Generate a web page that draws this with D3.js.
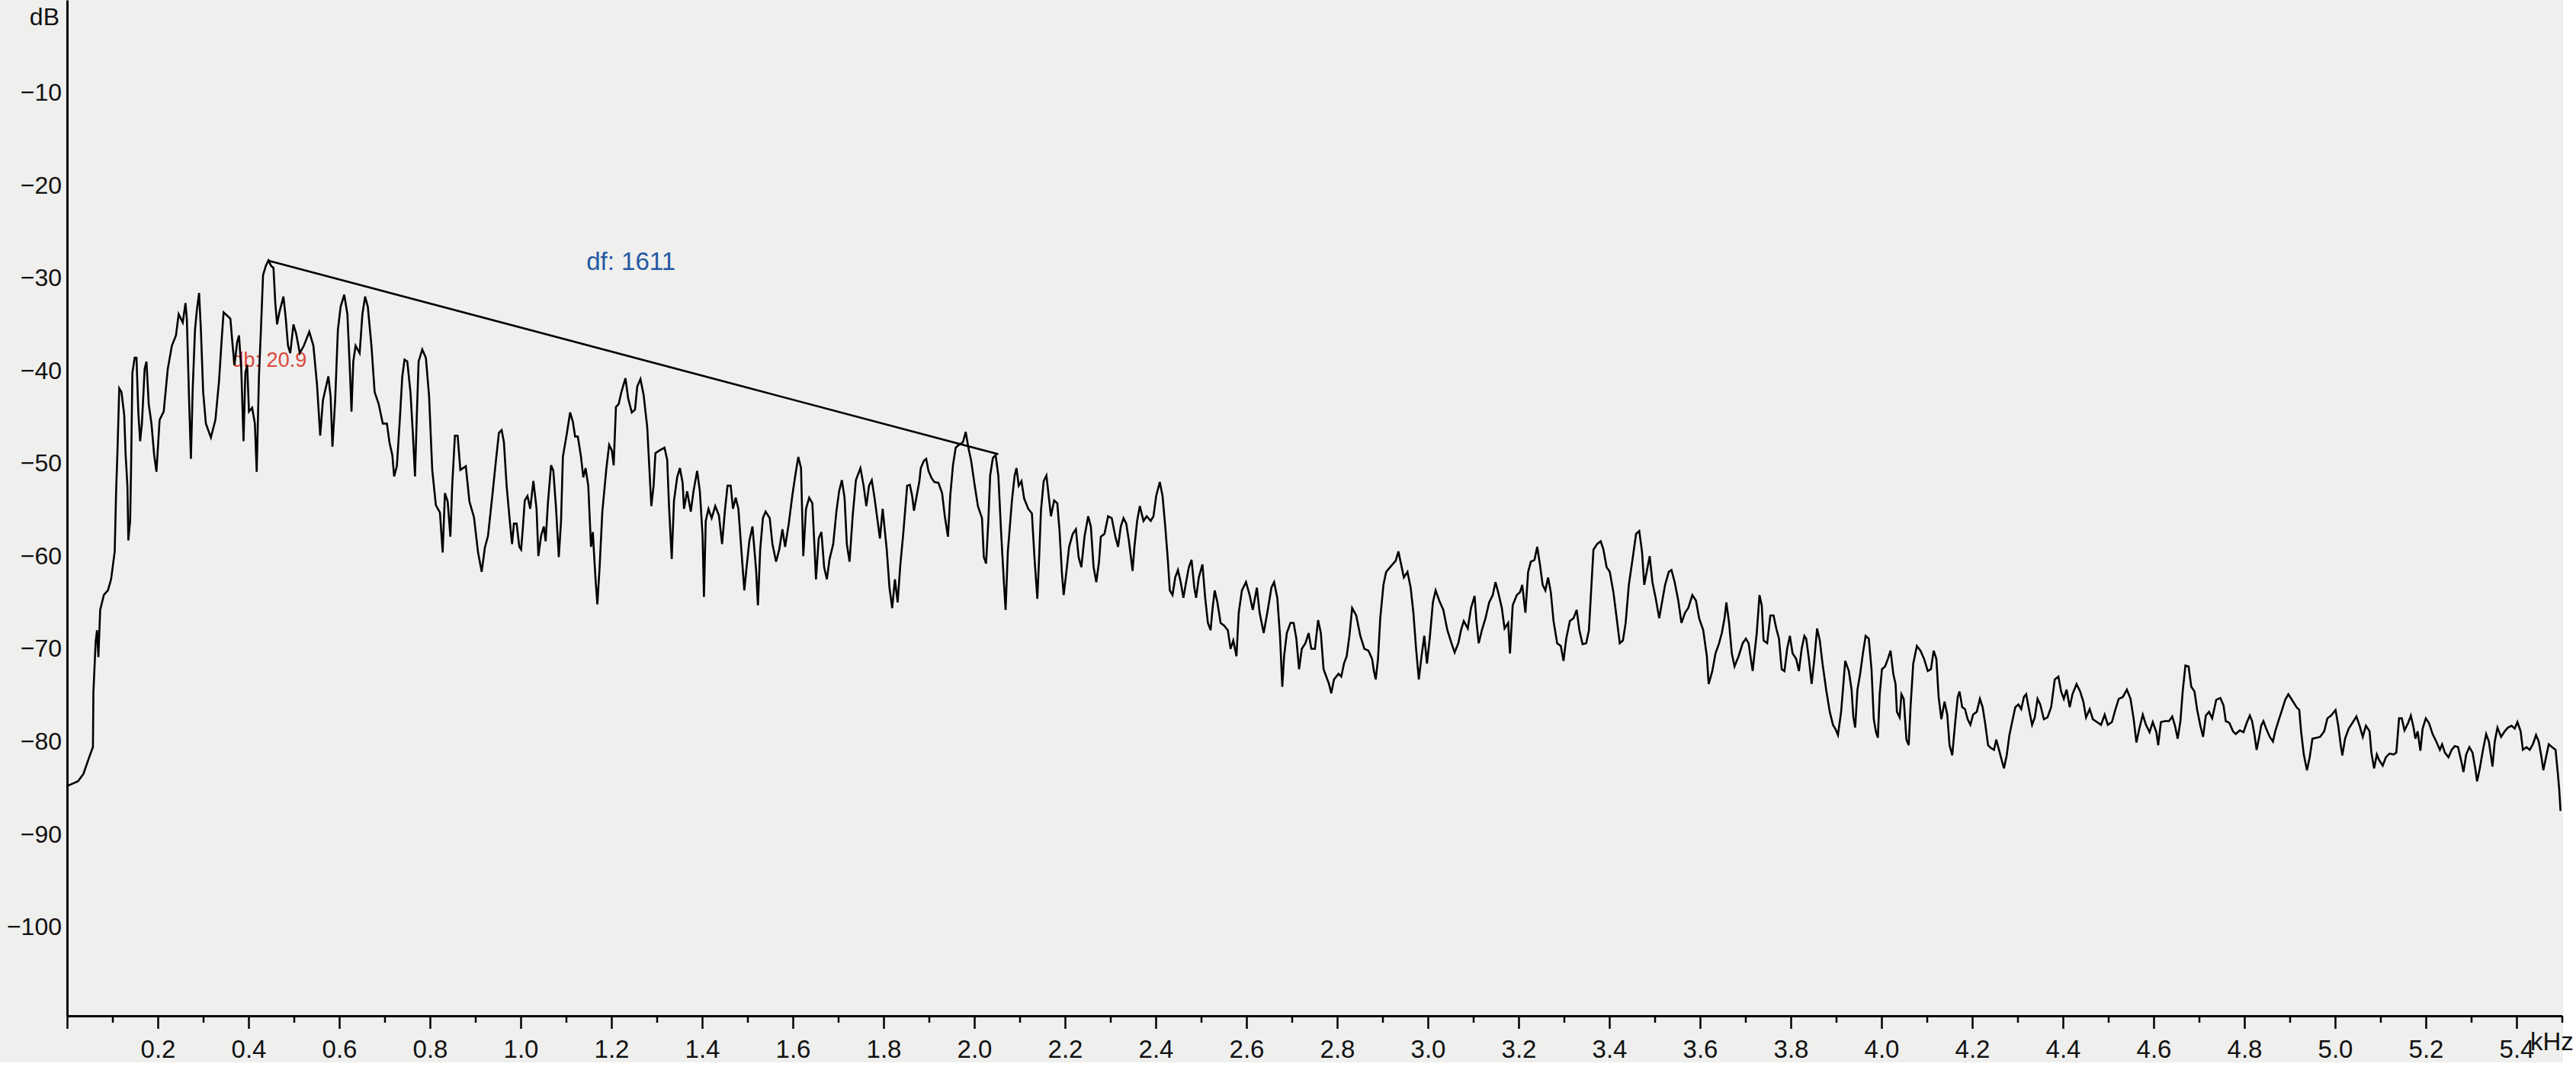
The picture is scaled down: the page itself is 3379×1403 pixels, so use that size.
<!DOCTYPE html>
<html>
<head>
<meta charset="utf-8">
<script src="https://cdn.jsdelivr.net/npm/d3@7"></script>
<style>
  body { margin: 0; background: #ffffff; }
  svg { display: block; font-family: "Liberation Sans", Arial, Helvetica, sans-serif; }
</style>
</head>
<body>
<script>
// Spectrum, [kHz, dB], split into bands.
const band1 = [[0,-84.8],[0.024,-84.3],[0.036,-83.5],[0.048,-81.8],[0.057,-80.6],[0.058,-74.7],[0.063,-69.2],[0.066,-68],[0.069,-70.9],[0.073,-65.8],[0.081,-64.2],[0.09,-63.7],[0.097,-62.5],[0.105,-59.5],[0.108,-53.2],[0.111,-48.8],[0.115,-41.9],[0.12,-42.3],[0.126,-44.8],[0.129,-49],[0.133,-52.4],[0.135,-58.3],[0.139,-56.2],[0.141,-50.7],[0.144,-40.2],[0.149,-38.6],[0.153,-38.6],[0.157,-44.4],[0.161,-47.6],[0.165,-45.7],[0.171,-39.8],[0.175,-39],[0.18,-43.6],[0.186,-45.7],[0.192,-49.1],[0.197,-50.9],[0.204,-45.3],[0.213,-44.4],[0.222,-39.8],[0.231,-37.3],[0.24,-36.2],[0.246,-33.9],[0.255,-34.8],[0.261,-32.7],[0.264,-34.4],[0.269,-43.2],[0.273,-49.5],[0.277,-41.9],[0.282,-35.6],[0.286,-33.5],[0.291,-31.6],[0.295,-35.6],[0.3,-42.3],[0.306,-45.7],[0.317,-47.2],[0.327,-45.3],[0.335,-41.1],[0.341,-36.5],[0.345,-33.7],[0.354,-34.1],[0.36,-34.4],[0.365,-37.3],[0.369,-39.4],[0.375,-36.9],[0.379,-36.2],[0.384,-39.8],[0.389,-47.6],[0.393,-40.2],[0.397,-39.4],[0.401,-44.4],[0.408,-44],[0.414,-45.7],[0.418,-50.9],[0.423,-40.6],[0.427,-36],[0.432,-29.7],[0.438,-28.7],[0.444,-28.1],[0.45,-28.7],[0.455,-28.9],[0.459,-32.7],[0.463,-35],[0.468,-33.7],[0.477,-32],[0.482,-34.3],[0.487,-37.3],[0.492,-38.1],[0.499,-35],[0.505,-36],[0.513,-38.1],[0.522,-37.3],[0.534,-35.8],[0.543,-37.3],[0.551,-41.5],[0.558,-47],[0.564,-43.2],[0.576,-40.6],[0.581,-42.8],[0.585,-48.2],[0.591,-43.2],[0.597,-35.6],[0.603,-33.1],[0.611,-31.8],[0.618,-33.9],[0.623,-39.4],[0.627,-44.4],[0.631,-39],[0.636,-37.3],[0.645,-38.1],[0.651,-33.9],[0.657,-32],[0.663,-33.1],[0.671,-37.3],[0.678,-42.3],[0.687,-43.6],[0.696,-45.7],[0.705,-45.7],[0.711,-47.8],[0.717,-49.1],[0.721,-51.4],[0.727,-50.3],[0.733,-45.7],[0.739,-40.6],[0.744,-38.8],[0.75,-39],[0.757,-42.3],[0.762,-46.5],[0.767,-51.4],[0.771,-44.8],[0.775,-39],[0.783,-37.7],[0.791,-38.6],[0.798,-42.7],[0.805,-50.7],[0.813,-54.5],[0.822,-55.3],[0.828,-59.6],[0.833,-53.2],[0.839,-54.1],[0.845,-57.9],[0.849,-52.4],[0.855,-47],[0.861,-47],[0.867,-50.7],[0.879,-50.3],[0.887,-54.1],[0.897,-55.8],[0.906,-59.6],[0.914,-61.7],[0.921,-59.1]];

const band2 = [[0.928,-57.8],[0.937,-53.7],[0.945,-49.9],[0.952,-46.7],[0.958,-46.4],[0.963,-47.7],[0.969,-52.4],[0.976,-56.2],[0.981,-58.7],[0.985,-56.5],[0.991,-56.5],[0.997,-59],[1.001,-59.3],[1.005,-56.8],[1.009,-54],[1.015,-53.5],[1.021,-54.9],[1.028,-51.9],[1.035,-54.9],[1.039,-60],[1.045,-57.8],[1.051,-56.8],[1.055,-58.4],[1.06,-54.3],[1.067,-50.2],[1.072,-50.8],[1.078,-54.9],[1.084,-60.1],[1.089,-56.2],[1.093,-49.3],[1.102,-46.7],[1.109,-44.5],[1.115,-45.5],[1.12,-47.1],[1.126,-47.1],[1.133,-49.3],[1.138,-51.5],[1.143,-50.5],[1.149,-52.4],[1.155,-59],[1.159,-57.4],[1.165,-62.5],[1.169,-65.2],[1.174,-61.2],[1.18,-55.2],[1.189,-50.5],[1.195,-48],[1.201,-48.6],[1.205,-50.2],[1.21,-43.9],[1.216,-43.6],[1.222,-42.3],[1.231,-40.8],[1.237,-43],[1.245,-44.5],[1.252,-44.2],[1.257,-41.7],[1.264,-40.9],[1.271,-42.6],[1.279,-46.1],[1.283,-49.9],[1.288,-54.6],[1.293,-52.4],[1.297,-48.9],[1.306,-48.6],[1.317,-48.3],[1.323,-49.6],[1.327,-54.6],[1.333,-60.3],[1.338,-54],[1.345,-51.5],[1.351,-50.5],[1.357,-52.1],[1.36,-54.9],[1.367,-53],[1.375,-55.2],[1.381,-53],[1.389,-50.8],[1.395,-53],[1.401,-57.8],[1.404,-64.4],[1.408,-56.2],[1.414,-54.9],[1.421,-55.9],[1.429,-54.6],[1.437,-55.6],[1.444,-58.7],[1.45,-55.2],[1.456,-52.4],[1.463,-52.4],[1.468,-54.9],[1.474,-53.7],[1.48,-54.9],[1.486,-59],[1.493,-63.7],[1.498,-61.2],[1.504,-58.4],[1.511,-56.8],[1.519,-61.5],[1.523,-65.3],[1.528,-59.3],[1.534,-55.9],[1.54,-55.2],[1.549,-55.9],[1.555,-58.7],[1.563,-60.6],[1.57,-59.3],[1.577,-57.1],[1.583,-59],[1.591,-56.5],[1.599,-53.4],[1.606,-51.1],[1.612,-49.3],[1.618,-50.5],[1.623,-60],[1.629,-54.9],[1.636,-53.7],[1.643,-54.3],[1.648,-59.3],[1.651,-62.5],[1.657,-58.1],[1.663,-57.4],[1.669,-61.2],[1.675,-62.5],[1.681,-60.3],[1.689,-58.7],[1.696,-55.2],[1.702,-53],[1.708,-51.8],[1.714,-53.7],[1.719,-58.7],[1.725,-60.6],[1.732,-55.6],[1.739,-51.8],[1.749,-50.5],[1.756,-52.4],[1.762,-54.6],[1.768,-52.4],[1.774,-51.8],[1.78,-53.7],[1.786,-55.9],[1.792,-58.1],[1.798,-54.9],[1.807,-59.3],[1.813,-63.4],[1.819,-65.6],[1.825,-62.5],[1.831,-65],[1.837,-60.9],[1.843,-57.8]];

const band3 = [[1.852,-52.4],[1.858,-52.3],[1.863,-53.5],[1.867,-55.1],[1.873,-53.5],[1.879,-51.9],[1.882,-50.5],[1.889,-49.7],[1.894,-49.5],[1.899,-50.8],[1.906,-51.6],[1.912,-52],[1.921,-52.1],[1.929,-53.2],[1.935,-55.7],[1.942,-57.9],[1.947,-53.5],[1.953,-50.2],[1.959,-48.3],[1.966,-48],[1.975,-47.7],[1.981,-46.6],[1.987,-48.3],[1.993,-49.7],[2.001,-52.4],[2.008,-54.6],[2.017,-55.9],[2.021,-60.1],[2.026,-60.8],[2.031,-56.2],[2.035,-51.3],[2.041,-49.4],[2.047,-49.1],[2.053,-51.3],[2.059,-57.3],[2.065,-62.6],[2.069,-65.8],[2.074,-59.5],[2.083,-54],[2.089,-51.3],[2.093,-50.5],[2.098,-52.4],[2.104,-51.9],[2.11,-53.8],[2.119,-54.9],[2.127,-55.4],[2.133,-60.4],[2.139,-64.6],[2.143,-60.1],[2.147,-55.1],[2.153,-51.9],[2.159,-51.3],[2.164,-53.5],[2.169,-55.7],[2.176,-54],[2.183,-54.3],[2.188,-57.3],[2.193,-61.7],[2.197,-64.2],[2.203,-61.7],[2.209,-59],[2.217,-57.6],[2.224,-57.1],[2.23,-60.1],[2.236,-61.2],[2.243,-57.9],[2.251,-55.7],[2.257,-56.8],[2.263,-61.2],[2.269,-62.8],[2.275,-60.6],[2.279,-57.9],[2.287,-57.6],[2.295,-55.7],[2.303,-55.9],[2.311,-57.9],[2.317,-59],[2.323,-56.8],[2.329,-55.9],[2.335,-56.5],[2.341,-58.4],[2.349,-61.6],[2.353,-59],[2.359,-56.2],[2.365,-54.6],[2.373,-56.2],[2.38,-55.7],[2.389,-56.2],[2.395,-55.7],[2.401,-53.5],[2.409,-52],[2.415,-53.5],[2.421,-56.8],[2.427,-60.6],[2.431,-63.7],[2.437,-64.2],[2.443,-62.3],[2.449,-61.5],[2.455,-62.8],[2.461,-64.5],[2.467,-62.8],[2.473,-61.2],[2.479,-60.4],[2.485,-63.4],[2.489,-64.5],[2.495,-62.3],[2.503,-60.9],[2.509,-64.5],[2.515,-67.2],[2.521,-68],[2.525,-65.8],[2.53,-63.7],[2.536,-65],[2.543,-67.2],[2.551,-67.5],[2.559,-68],[2.565,-70],[2.571,-69.1],[2.578,-70.8],[2.583,-66.1],[2.59,-63.7],[2.599,-62.8],[2.607,-64.2],[2.614,-65.8],[2.623,-63.4],[2.629,-66.1],[2.638,-68.3],[2.647,-65.8],[2.655,-63.4],[2.661,-62.8],[2.668,-64.5],[2.674,-68.6],[2.679,-74.1],[2.683,-70.8],[2.689,-68.3],[2.697,-67.2],[2.704,-67.2],[2.71,-68.9],[2.716,-72.2],[2.722,-70],[2.73,-69.4],[2.737,-68.3],[2.743,-70],[2.751,-70],[2.758,-66.9],[2.764,-68.3],[2.77,-72.2]];

const band4 = [[2.782,-73.8],[2.787,-74.8],[2.793,-73.3],[2.803,-72.7],[2.809,-73],[2.815,-71.6],[2.821,-70.8],[2.827,-68.6],[2.833,-65.6],[2.842,-66.4],[2.851,-68.6],[2.86,-70],[2.869,-70.2],[2.877,-71.1],[2.881,-72.4],[2.885,-73.3],[2.89,-71.1],[2.895,-66.7],[2.902,-63.1],[2.908,-61.7],[2.92,-61],[2.929,-60.5],[2.935,-59.5],[2.941,-60.9],[2.947,-62.3],[2.955,-61.7],[2.962,-63.4],[2.968,-66.1],[2.974,-70],[2.98,-73.3],[2.986,-70.8],[2.992,-68.6],[2.998,-71.6],[3.004,-68.9],[3.011,-65],[3.017,-63.7],[3.025,-64.8],[3.034,-65.8],[3.043,-68],[3.052,-69.4],[3.059,-70.4],[3.067,-69.4],[3.073,-68],[3.079,-67],[3.088,-67.8],[3.095,-65.6],[3.103,-64.3],[3.107,-67],[3.112,-69.4],[3.119,-68],[3.127,-66.7],[3.135,-65],[3.143,-64.2],[3.149,-62.8],[3.155,-63.9],[3.163,-65.6],[3.169,-67.8],[3.177,-67.2],[3.181,-70.5],[3.187,-65.3],[3.196,-64.2],[3.203,-63.9],[3.208,-63.1],[3.215,-66.1],[3.221,-61.7],[3.227,-60.6],[3.235,-60.4],[3.241,-59],[3.247,-60.9],[3.253,-63.1],[3.259,-63.7],[3.265,-62.3],[3.271,-63.9],[3.277,-67],[3.285,-69.4],[3.293,-69.7],[3.299,-71.3],[3.305,-68.9],[3.313,-67],[3.321,-66.7],[3.328,-65.8],[3.334,-68],[3.341,-69.5],[3.349,-69.4],[3.355,-68],[3.359,-64.5],[3.365,-59.3],[3.373,-58.7],[3.381,-58.4],[3.387,-59.3],[3.394,-61.2],[3.401,-61.7],[3.409,-63.9],[3.417,-67],[3.423,-69.4],[3.43,-69.1],[3.436,-67.2],[3.443,-63.1],[3.451,-60.4],[3.459,-57.6],[3.466,-57.3],[3.472,-59.5],[3.477,-63.1],[3.483,-61.5],[3.489,-60],[3.495,-62.8],[3.502,-64.5],[3.51,-66.7],[3.516,-65],[3.523,-63.1],[3.531,-61.7],[3.537,-61.5],[3.544,-62.8],[3.552,-64.8],[3.559,-67.2],[3.567,-66.1],[3.574,-65.6],[3.583,-64.2],[3.591,-64.8],[3.598,-66.7],[3.607,-68],[3.615,-70.8],[3.619,-73.8],[3.627,-72.4],[3.634,-70.5],[3.642,-69.4],[3.648,-68.3],[3.654,-66.7],[3.658,-65],[3.664,-67.2],[3.67,-70.5],[3.676,-71.9],[3.685,-70.8],[3.694,-69.4]];

const band5 = [[3.701,-68.9],[3.707,-69.4],[3.712,-71.1],[3.716,-72.4],[3.72,-70.5],[3.725,-68.3],[3.731,-64.2],[3.736,-65.3],[3.74,-69.1],[3.748,-69.4],[3.755,-66.4],[3.762,-66.4],[3.768,-67.8],[3.774,-68.9],[3.78,-72.2],[3.786,-72.4],[3.792,-70],[3.798,-68.6],[3.804,-70.5],[3.812,-71.1],[3.818,-72.4],[3.824,-70],[3.83,-68.6],[3.834,-68.9],[3.84,-71.1],[3.846,-73.8],[3.852,-71.1],[3.858,-67.8],[3.864,-69.1],[3.87,-71.6],[3.878,-74.4],[3.886,-76.8],[3.893,-78.2],[3.899,-78.7],[3.904,-79.3],[3.911,-76.8],[3.916,-73.8],[3.92,-71.3],[3.928,-72.4],[3.934,-74.4],[3.938,-77.4],[3.942,-78.5],[3.947,-74.4],[3.953,-72.7],[3.959,-70.5],[3.965,-68.6],[3.972,-68.9],[3.978,-72.2],[3.983,-77.6],[3.988,-79],[3.992,-79.6],[3.996,-74.9],[4.001,-72.2],[4.008,-71.9],[4.014,-71.1],[4.02,-70.2],[4.026,-72.7],[4.031,-73.8],[4.034,-76.8],[4.04,-77.4],[4.044,-74.9],[4.049,-75.4],[4.055,-79.8],[4.06,-80.4],[4.064,-76.3],[4.07,-71.6],[4.078,-69.7],[4.086,-70.2],[4.094,-71.1],[4.102,-72.4],[4.109,-72.2],[4.115,-70.2],[4.121,-71.1],[4.126,-75.2],[4.132,-77.6],[4.139,-75.7],[4.145,-77.1],[4.15,-80.4],[4.156,-81.5],[4.162,-78.2],[4.168,-75.2],[4.172,-74.6],[4.178,-76.3],[4.184,-76.5],[4.19,-77.6],[4.196,-78.2],[4.202,-77.1],[4.21,-76.8],[4.217,-75.4],[4.223,-76.3],[4.229,-78.2],[4.235,-80.4],[4.241,-80.7],[4.248,-80.9],[4.253,-79.8],[4.259,-80.9],[4.265,-82],[4.27,-82.9],[4.276,-81.5],[4.282,-79.3],[4.288,-77.9],[4.295,-76.3],[4.302,-76],[4.308,-76.5],[4.314,-75.2],[4.319,-74.9],[4.325,-76.5],[4.332,-78.2],[4.338,-77.4],[4.344,-75.4],[4.35,-76],[4.358,-77.6],[4.366,-77.4],[4.374,-76.3],[4.382,-73.3],[4.39,-73],[4.396,-74.6],[4.402,-75.4],[4.408,-74.4],[4.415,-76.3],[4.421,-74.9],[4.43,-73.8],[4.438,-74.6],[4.445,-75.7],[4.451,-77.4],[4.459,-76.5],[4.466,-77.6],[4.475,-77.9],[4.484,-78.2],[4.492,-77.1],[4.499,-78.2],[4.508,-77.9],[4.516,-76.5],[4.523,-75.4],[4.532,-75.2],[4.541,-74.4],[4.549,-75.4],[4.556,-77.6],[4.562,-80.1],[4.568,-78.7],[4.576,-77.1],[4.583,-78.2],[4.591,-79],[4.598,-77.9],[4.606,-79],[4.61,-80.4],[4.616,-77.9]];

const band6 = [[4.625,-77.8],[4.634,-77.8],[4.641,-77.3],[4.647,-78.3],[4.653,-79.7],[4.659,-77.8],[4.664,-74.6],[4.67,-71.8],[4.677,-71.9],[4.683,-74.1],[4.69,-74.6],[4.696,-76.6],[4.703,-78.3],[4.709,-79.5],[4.715,-77.2],[4.722,-76.8],[4.729,-77.5],[4.738,-75.5],[4.747,-75.3],[4.754,-76.1],[4.759,-77.8],[4.767,-78],[4.775,-78.9],[4.781,-79.2],[4.79,-78.8],[4.798,-79],[4.805,-78],[4.812,-77.2],[4.817,-77.8],[4.822,-79.2],[4.827,-80.9],[4.832,-79.7],[4.837,-78.3],[4.842,-77.8],[4.848,-78.6],[4.856,-79.5],[4.863,-80],[4.868,-78.9],[4.875,-77.8],[4.883,-76.6],[4.89,-75.5],[4.897,-74.9],[4.906,-75.6],[4.915,-76.3],[4.921,-76.6],[4.925,-78.9],[4.931,-81.4],[4.938,-83.1],[4.944,-81.7],[4.95,-79.7],[4.958,-79.6],[4.967,-79.5],[4.976,-78.9],[4.983,-77.5],[4.991,-77.2],[5.001,-76.6],[5.007,-78.3],[5.013,-80.6],[5.016,-81.5],[5.022,-79.7],[5.03,-78.6],[5.038,-78],[5.047,-77.3],[5.054,-78.3],[5.061,-79.5],[5.068,-78.3],[5.076,-78.9],[5.08,-81.2],[5.086,-82.9],[5.092,-81.4],[5.097,-82],[5.105,-82.6],[5.112,-81.7],[5.12,-81.3],[5.129,-81.4],[5.135,-81.2],[5.141,-77.5],[5.147,-77.5],[5.153,-78.8],[5.161,-78],[5.167,-77.2],[5.173,-78.5],[5.177,-79.7],[5.182,-78.9],[5.188,-81],[5.193,-78.6],[5.2,-77.5],[5.207,-78],[5.215,-79.2],[5.223,-80],[5.231,-80.9],[5.236,-80.3],[5.242,-81.2],[5.25,-81.7],[5.257,-80.9],[5.264,-80.5],[5.271,-80.6],[5.279,-82.3],[5.283,-83.3],[5.289,-81.4],[5.296,-80.6],[5.303,-81.2],[5.309,-82.9],[5.313,-84.3],[5.319,-82.9],[5.326,-80.9],[5.333,-79.2],[5.339,-80],[5.347,-82.7],[5.352,-80],[5.358,-78.5],[5.366,-79.5],[5.374,-78.9],[5.381,-78.5],[5.389,-78.3],[5.396,-78.6],[5.402,-77.9],[5.409,-78.9],[5.414,-80.9],[5.422,-80.6],[5.429,-80.9],[5.436,-80.3],[5.443,-79.3],[5.449,-80],[5.455,-81.7],[5.459,-83.1],[5.465,-81.7],[5.471,-80.3],[5.478,-80.6],[5.486,-80.9],[5.491,-83.4],[5.494,-85.1],[5.497,-87.5]];

// Measurement drawn on the plot: from the top peak to a later peak.
const measureFrom = [0.442, -28.1];
const measureTo = [2.053, -49.0];
const dfLabel = "df: 1611";
const dbLabel = "db: 20.9";
const dbLabelAt = [0.364, -39.6];
const dfLabelAt = [1.145, -29.1];

// Axis ticks and labels.
const xMajor = [0, 0.2, 0.4, 0.6, 0.8, 1.0, 1.2, 1.4, 1.6, 1.8, 2.0, 2.2, 2.4, 2.6, 2.8, 3.0, 3.2, 3.4, 3.6, 3.8, 4.0, 4.2, 4.4, 4.6, 4.8, 5.0, 5.2, 5.4];
const xLabels = ["", "0.2", "0.4", "0.6", "0.8", "1.0", "1.2", "1.4", "1.6", "1.8", "2.0", "2.2", "2.4", "2.6", "2.8", "3.0", "3.2", "3.4", "3.6", "3.8", "4.0", "4.2", "4.4", "4.6", "4.8", "5.0", "5.2", "5.4"];
const xMinor = [0.1, 0.3, 0.5, 0.7, 0.9, 1.1, 1.3, 1.5, 1.7, 1.9, 2.1, 2.3, 2.5, 2.7, 2.9, 3.1, 3.3, 3.5, 3.7, 3.9, 4.1, 4.3, 4.5, 4.7, 4.9, 5.1, 5.3, 5.5];
const yTicks = [-10, -20, -30, -40, -50, -60, -70, -80, -90, -100];

const width = 3379;
const height = 1403;
const panelWidth = 3362;
const panelHeight = 1393;
const marginLeft = 88;
const axisY = 1332;

const spectrum = band1.concat(band2, band3, band4, band5, band6);

const x = d3.scaleLinear([0, 5.5], [marginLeft, marginLeft + 5.5 * 595]);
const y = d3.scaleLinear([-109.6, 0], [axisY, 0]);

const svg = d3.select("body")
  .append("svg")
  .attr("width", width)
  .attr("height", height)
  .attr("viewBox", [0, 0, width, height]);

// Grey panel, the strip at the bottom and right stays white.
svg.append("rect")
  .attr("width", panelWidth)
  .attr("height", panelHeight)
  .attr("fill", "#efefed");

// Red level label sits under the curve.
svg.append("text")
  .attr("x", x(dbLabelAt[0]))
  .attr("y", y(dbLabelAt[1]))
  .attr("fill", "#d9473b")
  .attr("font-size", 27)
  .text(dbLabel);

const line = d3.line()
  .x((d) => x(d[0]))
  .y((d) => y(d[1]));

svg.append("path")
  .attr("fill", "none")
  .attr("stroke", "#000")
  .attr("stroke-width", 2.6)
  .attr("d", line(spectrum));

svg.append("path")
  .attr("fill", "none")
  .attr("stroke", "#000")
  .attr("stroke-width", 2.6)
  .attr("d", line([measureFrom, measureTo]));

svg.append("text")
  .attr("x", x(dfLabelAt[0]))
  .attr("y", y(dfLabelAt[1]))
  .attr("fill", "#2458a4")
  .attr("font-size", 33)
  .text(dfLabel);

// y axis: line and labels only, no tick marks.
svg.append("g")
  .attr("transform", `translate(${marginLeft},0)`)
  .call(d3.axisLeft(y).tickValues(yTicks).tickSize(0).tickPadding(7).tickSizeOuter(0))
  .call((g) => g.attr("font-family", null).attr("font-size", 32))
  .call((g) => g.select(".domain").attr("stroke-width", 3))
  .call((g) => g.selectAll(".tick text").attr("fill", "#111"))
  .call((g) => g.append("text")
    .attr("x", -10)
    .attr("y", 33)
    .attr("fill", "#111")
    .attr("text-anchor", "end")
    .attr("font-size", 32)
    .text("dB"));

// x axis: long ticks every 0.2 kHz, short ones in between.
svg.append("g")
  .attr("transform", `translate(0,${axisY})`)
  .call(d3.axisBottom(x).tickValues(xMinor).tickSize(9).tickSizeOuter(0).tickFormat(""))
  .call((g) => g.select(".domain").remove())
  .call((g) => g.selectAll(".tick line").attr("stroke-width", 2.5));

svg.append("g")
  .attr("transform", `translate(0,${axisY})`)
  .call(d3.axisBottom(x).tickValues(xMajor).tickSize(17).tickPadding(15).tickSizeOuter(0)
    .tickFormat((d, i) => xLabels[i]))
  .call((g) => g.attr("font-family", null).attr("font-size", 33))
  .call((g) => g.select(".domain").attr("stroke-width", 3))
  .call((g) => g.selectAll(".tick line").attr("stroke-width", 2.5))
  .call((g) => g.selectAll(".tick text").attr("fill", "#111"))
  .call((g) => g.append("text")
    .attr("x", 3319)
    .attr("y", 45)
    .attr("fill", "#111")
    .attr("text-anchor", "start")
    .attr("font-size", 33)
    .text("kHz"));
</script>
</body>
</html>
